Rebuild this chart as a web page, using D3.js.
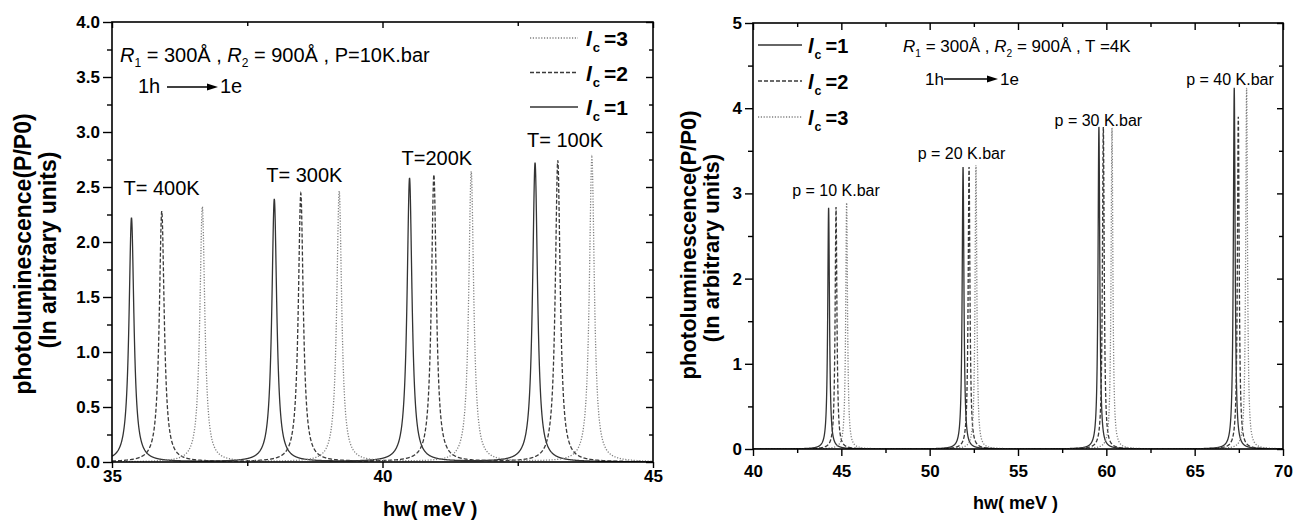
<!DOCTYPE html>
<html>
<head>
<meta charset="utf-8">
<script src="https://cdn.jsdelivr.net/npm/d3@7"></script>
<style>
  body { margin: 0; background: #fff; }
  svg { font-family: "Liberation Sans", Arial, sans-serif; }
</style>
</head>
<body>
<svg id="fig" width="1299" height="523"></svg>
<script>
// ---- left panel: peaks vs temperature, P = 10 K.bar ----
const tempLabels   = ["T= 400K", "T= 300K", "T=200K", "T= 100K"];
const tempLabelY   = [2.43, 2.55, 2.70, 2.86];
const tempIc1Pos   = [35.36, 38.00, 40.50, 42.82];
const tempIc1Peak  = [2.22, 2.39, 2.58, 2.72];
const tempIc2Pos   = [35.92, 38.49, 40.95, 43.24];
const tempIc2Peak  = [2.28, 2.44, 2.61, 2.74];
const tempIc3Pos   = [36.67, 39.20, 41.64, 43.87];
const tempIc3Peak  = [2.32, 2.46, 2.64, 2.77];
const tempHalfWidth = [0.055, 0.055, 0.055, 0.055];
const leftXMajor = [35, 40, 45];
const leftXMinor = [37.5, 42.5];
const leftYMajor = [0, 0.5, 1, 1.5, 2, 2.5, 3, 3.5, 4];
const leftYMinor = [0.25, 0.75, 1.25, 1.75, 2.25, 2.75, 3.25, 3.75];

// ---- right panel: peaks vs pressure, T = 4K ----
const presLabels   = ["p = 10 K.bar", "p = 20 K.bar", "p = 30 K.bar", "p = 40 K.bar"];
const presLabelX   = [44.7, 51.8, 59.55, 67.0];
const presLabelY   = [2.97, 3.40, 3.79, 4.27];
const presIc1Pos   = [44.28, 51.89, 59.58, 67.24];
const presIc1Peak  = [2.83, 3.31, 3.78, 4.24];
const presIc2Pos   = [44.70, 52.23, 59.83, 67.47];
const presIc2Peak  = [2.84, 3.31, 3.78, 3.90];
const presIc3Pos   = [45.30, 52.62, 60.32, 67.94];
const presIc3Peak  = [2.89, 3.33, 3.77, 4.24];
const presHalfWidth = [0.06, 0.06, 0.06, 0.06];
const rightXMajor = [40, 45, 50, 55, 60, 65, 70];
const rightXMinor = [42.5, 47.5, 52.5, 57.5, 62.5, 67.5];
const rightYMajor = [0, 1, 2, 3, 4, 5];
const rightYMinor = [0.5, 1.5, 2.5, 3.5, 4.5];

const svg = d3.select('#fig');

const styles = [
  { name: '1', stroke: '#333', dash: null, width: 1.3 },
  { name: '2', stroke: '#3a3a3a', dash: '4,2', width: 1.3 },
  { name: '3', stroke: '#808080', dash: '1.2,1.6', width: 1.3 }
];

// lorentzian line shape built from the read peak centres / heights / widths
function spectrum(pos, peak, hw, x0, x1, step) {
  const xs = d3.range(x0, x1 + step / 2, step).concat(pos).sort((a, b) => a - b);
  return xs.map(x => ({
    x: x,
    y: d3.sum(pos, (c, i) => peak[i] * hw[i] * hw[i] / ((x - c) * (x - c) + hw[i] * hw[i]))
  }));
}

function drawPanel(cfg) {
  const x = d3.scaleLinear().domain(cfg.xDomain).range([cfg.left, cfg.right]);
  const y = d3.scaleLinear().domain(cfg.yDomain).range([cfg.bottom, cfg.top]);
  const g = svg.append('g');

  const clipId = 'clip' + cfg.id;
  g.append('clipPath').attr('id', clipId)
    .append('rect')
      .attr('x', cfg.left).attr('y', cfg.top)
      .attr('width', cfg.right - cfg.left).attr('height', cfg.bottom - cfg.top);

  const line = d3.line().x(d => x(d.x)).y(d => y(d.y));
  const curves = g.append('g').attr('clip-path', `url(#${clipId})`);
  cfg.series.forEach((s, i) => {
    const data = spectrum(s.pos, s.peak, cfg.hw, cfg.xDomain[0], cfg.xDomain[1], cfg.step);
    curves.append('path')
      .datum(data)
      .attr('fill', 'none')
      .attr('stroke', styles[i].stroke)
      .attr('stroke-width', styles[i].width)
      .attr('stroke-dasharray', styles[i].dash)
      .attr('d', line);
  });

  // axes
  const tickFont = g => g.selectAll('text')
      .attr('font-family', '"Liberation Sans", Arial, sans-serif')
      .attr('font-weight', 'bold')
      .attr('font-size', cfg.tickFontSize)
      .attr('fill', '#000');
  const clean = g => { g.select('.domain').remove(); g.selectAll('line').attr('stroke', '#000').attr('stroke-width', 1.4); };

  g.append('g').attr('transform', `translate(0,${cfg.bottom})`)
    .call(d3.axisBottom(x).tickValues(cfg.xMajor).tickSize(cfg.xTick).tickPadding(cfg.xPad).tickFormat(d3.format('d')))
    .call(clean).call(tickFont);
  g.append('g').attr('transform', `translate(0,${cfg.bottom})`)
    .call(d3.axisBottom(x).tickValues(cfg.xMinor).tickSize(4).tickFormat(''))
    .call(clean);
  g.append('g').attr('transform', `translate(0,${cfg.top})`)
    .call(d3.axisTop(x).tickValues(cfg.xMajor).tickSize(-cfg.xTick).tickFormat(''))
    .call(clean);
  g.append('g').attr('transform', `translate(0,${cfg.top})`)
    .call(d3.axisTop(x).tickValues(cfg.xMinor).tickSize(-4).tickFormat(''))
    .call(clean);

  g.append('g').attr('transform', `translate(${cfg.left},0)`)
    .call(d3.axisLeft(y).tickValues(cfg.yMajor).tickSize(cfg.yTick).tickPadding(3).tickFormat(d3.format(cfg.yFormat)))
    .call(clean).call(tickFont);
  g.append('g').attr('transform', `translate(${cfg.left},0)`)
    .call(d3.axisLeft(y).tickValues(cfg.yMinor).tickSize(5).tickFormat(''))
    .call(clean);
  g.append('g').attr('transform', `translate(${cfg.right},0)`)
    .call(d3.axisRight(y).tickValues(cfg.yMajor).tickSize(-cfg.yTick + 2).tickFormat(''))
    .call(clean);
  g.append('g').attr('transform', `translate(${cfg.right},0)`)
    .call(d3.axisRight(y).tickValues(cfg.yMinor).tickSize(-4).tickFormat(''))
    .call(clean);

  g.append('rect')
    .attr('x', cfg.left).attr('y', cfg.top)
    .attr('width', cfg.right - cfg.left).attr('height', cfg.bottom - cfg.top)
    .attr('fill', 'none').attr('stroke', '#000').attr('stroke-width', 1.6);

  // axis titles
  g.append('text')
    .attr('x', cfg.xTitle[0]).attr('y', cfg.xTitle[1])
    .attr('font-weight', 'bold').attr('font-size', cfg.xTitleFontSize)
    .text('hw( meV )');
  const yt = g.append('g').attr('font-weight', 'bold').attr('font-size', cfg.yTitleFontSize).attr('text-anchor', 'middle');
  yt.append('text')
    .attr('transform', `translate(${cfg.yTitle[0]},${cfg.yTitle[2]}) rotate(-90)`)
    .text('photoluminescence(P/P0)');
  yt.append('text')
    .attr('transform', `translate(${cfg.yTitle[1]},${cfg.yTitle[3]}) rotate(-90)`)
    .text('(In arbitrary units)');

  // legend
  const lg = g.append('g');
  cfg.legendOrder.forEach((si, k) => {
    const ly = cfg.legend.y0 + k * cfg.legend.dy;
    lg.append('line')
      .attr('x1', cfg.legend.x0).attr('x2', cfg.legend.x1)
      .attr('y1', ly).attr('y2', ly)
      .attr('stroke', styles[si].stroke)
      .attr('stroke-width', styles[si].width)
      .attr('stroke-dasharray', styles[si].dash);
    const t = lg.append('text')
      .attr('x', cfg.legend.tx).attr('y', ly + 8)
      .attr('font-weight', 'bold').attr('font-size', cfg.legend.fs);
    t.append('tspan').attr('font-style', 'italic').text('l');
    t.append('tspan').attr('font-size', cfg.legend.fs * 0.62).attr('dy', 6).attr('dx', 1).text('c');
    t.append('tspan').attr('dy', -6).attr('dx', 4).text('=' + styles[si].name);
  });

  // parameter line
  const ann = g.append('text')
    .attr('x', cfg.ann.x).attr('y', cfg.ann.y)
    .attr('font-size', cfg.ann.fs);
  const sub = (txt) => {
    ann.append('tspan').attr('font-size', cfg.ann.fs * 0.6).attr('dy', 5).text(txt);
  };
  ann.append('tspan').attr('font-style', 'italic').text('R');
  sub('1');
  ann.append('tspan').attr('dy', -5).text(' = 300Å , ');
  ann.append('tspan').attr('font-style', 'italic').text('R');
  sub('2');
  ann.append('tspan').attr('dy', -5).text(' = 900Å , ' + cfg.ann.tail);

  // transition arrow
  const ar = cfg.arrow;
  g.append('text').attr('x', ar.x).attr('y', ar.y).attr('font-size', ar.fs).text('1h');
  g.append('line')
    .attr('x1', ar.l0).attr('x2', ar.l1 - 8)
    .attr('y1', ar.y - 6).attr('y2', ar.y - 6)
    .attr('stroke', '#000').attr('stroke-width', 1.3);
  g.append('path')
    .attr('d', `M${ar.l1},${ar.y - 6} L${ar.l1 - 11},${ar.y - 9.5} L${ar.l1 - 11},${ar.y - 2.5} Z`)
    .attr('fill', '#000');
  g.append('text').attr('x', ar.l1 + 2).attr('y', ar.y).attr('font-size', ar.fs).text('1e');

  // peak group labels
  g.append('g')
    .attr('font-size', cfg.peakLabel.fs)
    .attr('text-anchor', cfg.peakLabel.anchor)
    .selectAll('text')
    .data(cfg.peakLabel.text)
    .enter()
    .append('text')
      .attr('x', (d, i) => x(cfg.peakLabel.xs[i]) + cfg.peakLabel.dx)
      .attr('y', (d, i) => y(cfg.peakLabel.ys[i]))
      .text(d => d);
}

drawPanel({
  id: 'L',
  xDomain: [35, 45], yDomain: [0, 4],
  left: 112, right: 653, top: 22, bottom: 462,
  step: 0.004,
  hw: tempHalfWidth,
  series: [
    { pos: tempIc1Pos, peak: tempIc1Peak },
    { pos: tempIc2Pos, peak: tempIc2Peak },
    { pos: tempIc3Pos, peak: tempIc3Peak }
  ],
  xMajor: leftXMajor, xMinor: leftXMinor, yMajor: leftYMajor, yMinor: leftYMinor,
  yFormat: '.1f', xTick: 6, xPad: 2, yTick: 9,
  tickFontSize: 17, xTitleFontSize: 20, yTitleFontSize: 23,
  xTitle: [383, 516], yTitle: [31, 56, 254, 250],
  legendOrder: [2, 1, 0],
  legend: { x0: 530, x1: 578, tx: 586, y0: 38, dy: 34.5, fs: 21 },
  ann: { x: 120, y: 62, fs: 20, tail: 'P=10K.bar' },
  arrow: { x: 138, y: 93, l0: 167, l1: 218, fs: 20 },
  peakLabel: { text: tempLabels, xs: tempIc1Pos, ys: tempLabelY, dx: -8, anchor: 'start', fs: 20 }
});

drawPanel({
  id: 'R',
  xDomain: [40, 70], yDomain: [0, 5],
  left: 753, right: 1283, top: 23, bottom: 449,
  step: 0.005,
  hw: presHalfWidth,
  series: [
    { pos: presIc1Pos, peak: presIc1Peak },
    { pos: presIc2Pos, peak: presIc2Peak },
    { pos: presIc3Pos, peak: presIc3Peak }
  ],
  xMajor: rightXMajor, xMinor: rightXMinor, yMajor: rightYMajor, yMinor: rightYMinor,
  yFormat: 'd', xTick: 7, xPad: 9, yTick: 8,
  tickFontSize: 17, xTitleFontSize: 18, yTitleFontSize: 22,
  xTitle: [973, 509], yTitle: [696, 719, 245, 248],
  legendOrder: [0, 1, 2],
  legend: { x0: 758, x1: 802, tx: 808, y0: 45, dy: 36, fs: 20 },
  ann: { x: 903, y: 52, fs: 17, tail: 'T =4K' },
  arrow: { x: 925, y: 85, l0: 944, l1: 998, fs: 17 },
  peakLabel: { text: presLabels, xs: presLabelX, ys: presLabelY, dx: 0, anchor: 'middle', fs: 16 }
});
</script>
</body>
</html>
